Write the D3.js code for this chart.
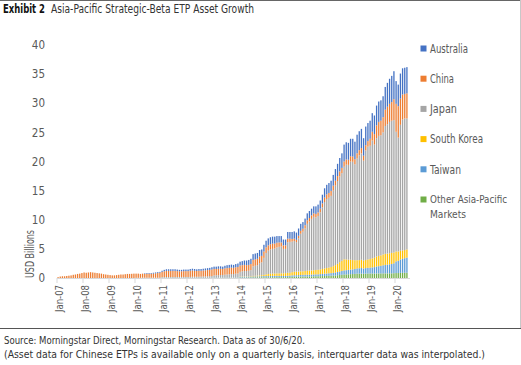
<!DOCTYPE html>
<html><head><meta charset="utf-8">
<script src="https://cdn.jsdelivr.net/npm/d3@7"></script>
<style>
body{margin:0;background:#fff;}
svg{display:block;font-family:"Liberation Sans Narrow","Arial Narrow","DejaVu Sans Condensed","Roboto Condensed",sans-serif;}
</style></head><body><svg id="c" width="521" height="365"></svg>
<script>
// ---------- DATA ----------
const monthNames = ["Jan","Feb","Mar","Apr","May","Jun","Jul","Aug","Sep","Oct","Nov","Dec"];
const yearSuffixes = ["07","08","09","10","11","12","13","14","15","16","17","18","19","20"];
const tickLabels = ["Jan-07","Jan-08","Jan-09","Jan-10","Jan-11","Jan-12","Jan-13","Jan-14","Jan-15","Jan-16","Jan-17","Jan-18","Jan-19","Jan-20"];
const yTicks = [0,5,10,15,20,25,30,35,40];
const seriesNames = ["Australia","China","Japan","South Korea","Taiwan","Other Asia-Pacific Markets"];

const australia = [
0,0,0,0,0,0,0,0,0,0,0,0,
0,0,0,0,0,0,0,0,0,0,0,0,
0,0,0,0,0,0,0,0,0,0,0,0,
0,0,0,0,0.1,0.12,0.12,0.12,0.15,0.15,0.15,0.15,
0.2,0.25,0.28,0.28,0.28,0.28,0.28,0.27,0.25,0.25,0.27,0.27,
0.27,0.3,0.3,0.3,0.28,0.3,0.3,0.3,0.32,0.33,0.35,0.38,
0.4,0.4,0.42,0.42,0.4,0.45,0.5,0.5,0.52,0.5,0.55,0.6,
0.65,0.7,0.75,0.8,0.85,0.9,1.0,1.0,1.0,1.1,1.1,1.15,
1.15,1.2,1.2,1.2,1.2,1.15,1.1,1.1,1.0,1.0,1.15,1.15,
1.2,1.25,1.25,1.25,1.2,1.15,1.15,1.2,1.2,1.15,1.2,1.3,
1.35,1.4,1.5,1.6,1.65,1.7,1.75,1.85,2.0,2.1,2.3,2.5,
2.9,2.95,2.9,3.0,3.05,3.0,3.2,3.25,3.3,3.0,3.2,3.1,
3.1,3.2,3.2,3.4,3.5,3.5,3.6,3.9,4.1,4.3,4.5,4.8,
3.9,3.7,4.3,4.5,4.5,4.5];
const china = [
0.15,0.25,0.3,0.3,0.35,0.4,0.45,0.55,0.6,0.7,0.75,0.85,
0.95,0.9,0.95,1.0,0.95,0.9,0.85,0.8,0.75,0.65,0.6,0.55,
0.5,0.45,0.45,0.5,0.55,0.6,0.6,0.65,0.7,0.7,0.72,0.75,
0.72,0.72,0.67,0.7,0.65,0.68,0.68,0.68,0.7,0.75,0.8,0.85,
0.9,1.0,1.05,1.05,1.05,1.05,1.05,1.0,0.97,0.97,1.0,1.0,
1.0,1.05,1.08,1.03,1.0,1.02,1.0,1.03,1.05,1.07,1.08,1.12,
1.1,1.08,1.08,1.07,1.03,1.08,1.1,1.1,1.1,1.07,1.1,1.12,
1.1,1.05,1.05,1.0,1.0,1.05,1.1,1.1,1.1,1.15,1.1,1.1,
0.95,0.9,0.9,0.9,0.85,0.8,0.75,0.7,0.6,0.6,0.6,0.55,
0.45,0.4,0.4,0.45,0.5,0.5,0.55,0.6,0.6,0.6,0.6,0.6,
0.6,0.62,0.65,0.75,0.8,0.82,0.85,0.85,0.85,0.85,0.88,0.9,
0.9,0.9,0.88,0.9,0.9,0.88,0.9,0.9,0.92,0.85,0.9,0.95,
1.2,1.5,1.8,2.2,2.4,2.5,2.6,2.8,3.0,3.1,3.2,3.6,
4.8,5.4,4.5,4.3,4.2,4.3];
const japan = [
0,0,0,0,0,0,0,0,0,0,0,0,
0,0,0,0,0,0,0,0,0,0,0,0,
0,0,0,0,0,0,0,0,0,0,0,0,
0.03,0.03,0.03,0.05,0.05,0.05,0.05,0.05,0.05,0.05,0.05,0.05,
0.1,0.1,0.12,0.12,0.12,0.12,0.12,0.13,0.13,0.13,0.13,0.13,
0.13,0.14,0.16,0.16,0.16,0.17,0.19,0.21,0.22,0.24,0.26,0.29,
0.37,0.39,0.42,0.43,0.44,0.49,0.52,0.57,0.6,0.6,0.66,0.69,
0.8,0.9,0.93,0.93,0.96,1.02,1.63,1.72,1.79,2.1,2.21,2.92,
3.67,4.02,4.18,4.24,4.29,4.46,4.55,4.6,4.2,4.17,5.27,5.32,
5.25,5.28,5.07,5.7,6.46,6.8,7.3,8.06,8.43,8.86,9.18,9.02,
9.24,9.81,10.6,11.4,11.84,11.98,12.21,12.97,13.65,14.22,14.7,15.05,
15.9,16.26,16.28,16.86,16.87,16.47,17.45,17.98,18.25,17.18,18.8,19.36,
19.44,20.23,19.43,20.32,20.62,20.62,20.97,21.96,22.21,22.55,22.7,22.73,
20.55,19.55,21.62,22.47,22.6,22.5];
const southKorea = [
0,0,0,0,0,0,0,0,0,0,0,0,
0,0,0,0,0,0,0,0,0,0,0,0,
0,0,0,0,0,0,0,0,0,0,0,0,
0,0,0,0,0,0,0,0,0,0,0,0,
0,0,0,0,0,0,0,0,0,0,0,0,
0,0,0,0,0,0,0,0,0,0,0,0,
0,0,0,0,0,0,0,0,0,0,0,0,
0.05,0.05,0.05,0.05,0.05,0.08,0.1,0.1,0.12,0.15,0.18,0.2,
0.3,0.35,0.38,0.4,0.4,0.42,0.45,0.45,0.45,0.48,0.5,0.5,
0.55,0.6,0.6,0.6,0.62,0.62,0.65,0.68,0.7,0.7,0.72,0.75,
0.78,0.8,0.85,0.9,0.95,1.0,1.05,1.15,1.25,1.4,1.6,1.75,
1.9,1.85,1.75,1.7,1.6,1.5,1.4,1.4,1.42,1.35,1.4,1.45,
1.5,1.55,1.6,1.7,1.75,1.8,1.85,1.9,1.9,1.9,1.9,1.85,
1.7,1.6,1.5,1.45,1.4,1.4];
const taiwan = [
0,0,0,0,0,0,0,0,0,0,0,0,
0,0,0,0,0,0,0,0,0,0,0,0,
0,0,0,0,0,0,0,0,0,0,0,0,
0,0,0,0,0,0,0,0,0,0,0,0,
0.03,0.03,0.03,0.03,0.03,0.03,0.03,0.03,0.03,0.03,0.03,0.03,
0.03,0.03,0.03,0.03,0.03,0.03,0.03,0.03,0.03,0.03,0.03,0.03,
0.05,0.05,0.05,0.05,0.05,0.05,0.05,0.05,0.05,0.05,0.05,0.05,
0.12,0.12,0.13,0.13,0.14,0.15,0.16,0.17,0.17,0.18,0.18,0.2,
0.2,0.2,0.2,0.22,0.22,0.22,0.2,0.2,0.2,0.2,0.22,0.22,
0.25,0.25,0.26,0.27,0.28,0.28,0.3,0.3,0.3,0.32,0.32,0.33,
0.33,0.35,0.37,0.4,0.4,0.42,0.44,0.46,0.5,0.55,0.6,0.65,
0.7,0.72,0.75,0.78,0.8,0.85,0.9,0.92,0.95,0.9,0.95,0.98,
1.0,1.05,1.1,1.2,1.25,1.3,1.4,1.45,1.5,1.55,1.6,1.7,
2.0,2.1,2.3,2.4,2.5,2.6];
const otherAP = [
0,0,0,0,0,0,0,0,0,0,0,0,
0,0,0,0,0,0,0,0,0,0,0,0,
0,0,0,0,0,0,0,0,0,0,0,0,
0,0,0,0,0,0,0,0,0,0,0,0,
0.02,0.02,0.02,0.02,0.02,0.02,0.02,0.02,0.02,0.02,0.02,0.02,
0.02,0.02,0.02,0.02,0.02,0.02,0.02,0.02,0.02,0.02,0.02,0.02,
0.03,0.03,0.03,0.03,0.03,0.03,0.03,0.03,0.03,0.03,0.03,0.03,
0.08,0.08,0.09,0.09,0.1,0.1,0.11,0.11,0.12,0.12,0.13,0.13,
0.13,0.13,0.14,0.14,0.14,0.15,0.15,0.15,0.15,0.15,0.16,0.16,
0.2,0.22,0.22,0.23,0.24,0.25,0.25,0.26,0.27,0.27,0.28,0.3,
0.3,0.32,0.33,0.35,0.36,0.38,0.4,0.42,0.45,0.48,0.52,0.55,
0.6,0.62,0.64,0.66,0.68,0.7,0.75,0.75,0.76,0.72,0.75,0.76,
0.76,0.77,0.77,0.78,0.78,0.78,0.78,0.79,0.79,0.8,0.8,0.82,
0.85,0.85,0.88,0.88,0.9,0.9];

const categories = yearSuffixes.flatMap(y => monthNames.map(m => m + "-" + y)).slice(0, australia.length);

// ---------- TABLE ----------
const colors = {"Australia":"#4472C4","China":"#ED7D31","Japan":"#A5A5A5","South Korea":"#FFC000","Taiwan":"#5B9BD5","Other Asia-Pacific Markets":"#70AD47"};
const valueArrays = {"Australia":australia,"China":china,"Japan":japan,"South Korea":southKorea,"Taiwan":taiwan,"Other Asia-Pacific Markets":otherAP};
const table = categories.map((c,i) => {
  const row = {cat:c};
  seriesNames.forEach(s => row[s] = valueArrays[s][i]);
  return row;
});
const stackOrder = ["Other Asia-Pacific Markets","Taiwan","South Korea","Japan","China","Australia"];
const stacked = d3.stack().keys(stackOrder)(table);

// ---------- DRAW ----------
const svg = d3.select("#c");
const W = 521, H = 365;
const textGray = "#595959";

const x = d3.scaleBand().domain(categories).range([57, 408]).paddingInner(0.4).paddingOuter(0.2);
const y = d3.scaleLinear().domain([0, 40]).range([278, 45]);

// frame lines
svg.append("line").attr("x1",0).attr("x2",W).attr("y1",0.5).attr("y2",0.5).attr("stroke","#666").attr("stroke-width",1);
svg.append("line").attr("x1",W-0.5).attr("x2",W-0.5).attr("y1",0).attr("y2",328).attr("stroke","#c8c8c8").attr("stroke-width",1);
svg.append("line").attr("x1",0).attr("x2",W).attr("y1",328.5).attr("y2",328.5).attr("stroke","#555").attr("stroke-width",1);

// title
svg.append("text").attr("x",3).attr("y",13).attr("font-size",11.5).attr("font-weight","bold").attr("fill","#111")
  .attr("textLength",42).attr("lengthAdjust","spacingAndGlyphs").text("Exhibit 2");
svg.append("text").attr("x",51).attr("y",13).attr("font-size",11.5).attr("fill","#333")
  .attr("textLength",203).attr("lengthAdjust","spacingAndGlyphs").text("Asia-Pacific Strategic-Beta ETP Asset Growth");

// bars
const layer = svg.append("g").selectAll("g").data(stacked).join("g").attr("fill", d => colors[d.key]);
layer.selectAll("rect").data(d => d).join("rect")
  .attr("x", d => x(d.data.cat))
  .attr("width", x.bandwidth())
  .attr("y", d => y(d[1]))
  .attr("height", d => Math.max(0, y(d[0]) - y(d[1])));

// x axis
const xAxis = d3.axisBottom(x).tickValues(tickLabels).tickSize(5).tickSizeOuter(0);
const gx = svg.append("g").attr("transform","translate(0,278)").call(xAxis);
gx.attr("font-family",null);
gx.select(".domain").attr("stroke","#d9d9d9").attr("d","M57,0.5H410");
gx.selectAll(".tick line").attr("stroke","#d9d9d9").attr("x1",-x.step()/2).attr("x2",-x.step()/2);
gx.selectAll(".tick text").attr("fill",textGray).attr("font-size",10.5)
  .attr("transform","rotate(-90)").attr("text-anchor","end")
  .attr("x",-7).attr("y",1.5).attr("dy","0.35em")
  .attr("textLength",27).attr("lengthAdjust","spacingAndGlyphs");

// y axis
const yAxis = d3.axisLeft(y).tickValues(yTicks).tickSize(0).tickPadding(1);
const gy = svg.append("g").attr("transform","translate(46,0)").call(yAxis);
gy.attr("font-family",null);
gy.select(".domain").remove();
gy.selectAll(".tick text").attr("fill",textGray).attr("font-size",11.5);

// y title
svg.append("text").attr("transform","translate(34,254) rotate(-90)").attr("text-anchor","middle")
  .attr("fill",textGray).attr("font-size",11.5)
  .attr("textLength",48).attr("lengthAdjust","spacingAndGlyphs").text("USD Billions");

// legend
const legendLen = {"Australia":38,"China":24,"Japan":27,"South Korea":53,"Taiwan":31};
const lg = svg.append("g");
seriesNames.forEach((s,i) => {
  const cy = 48.5 + i*30.2;
  lg.append("rect").attr("x",420.5).attr("y",cy-3).attr("width",6).attr("height",6).attr("fill",colors[s]);
  if (s === "Other Asia-Pacific Markets") {
    lg.append("text").attr("x",430).attr("y",cy).attr("dy","0.35em").attr("fill",textGray).attr("font-size",10.5)
      .attr("textLength",77).attr("lengthAdjust","spacingAndGlyphs").text("Other Asia-Pacific");
    lg.append("text").attr("x",430).attr("y",cy+14.5).attr("dy","0.35em").attr("fill",textGray).attr("font-size",11)
      .attr("textLength",36).attr("lengthAdjust","spacingAndGlyphs").text("Markets");
  } else {
    lg.append("text").attr("x",430).attr("y",cy).attr("dy","0.35em").attr("fill",textGray).attr("font-size",12)
      .attr("textLength",legendLen[s]).attr("lengthAdjust","spacingAndGlyphs").text(s);
  }
});

// source
svg.append("text").attr("x",4).attr("y",344).attr("font-size",11).attr("fill","#333")
  .attr("textLength",301).attr("lengthAdjust","spacingAndGlyphs")
  .text("Source: Morningstar Direct, Morningstar Research. Data as of 30/6/20.");
svg.append("text").attr("x",4).attr("y",358).attr("font-size",11).attr("fill","#333")
  .attr("textLength",481).attr("lengthAdjust","spacingAndGlyphs")
  .text("(Asset data for Chinese ETPs is available only on a quarterly basis, interquarter data was interpolated.)");
</script></body></html>
